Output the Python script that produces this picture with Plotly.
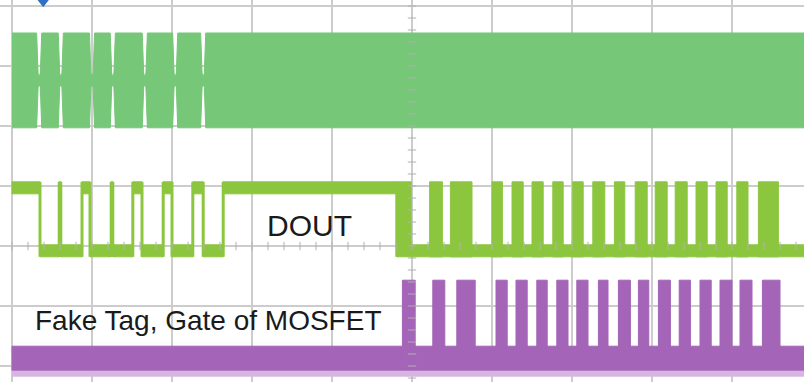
import plotly.graph_objects as go

# ---- data (x in time divisions, y in vertical divisions) ----
X_END = 9.9

# top trace (RF carrier) envelope
RF_CENTER = 2.76
RF_AMP = 0.79
RF_NECK = 0.06
RF_NOTCHES = [0.34, 0.61, 1.0, 1.26, 1.66, 2.04, 2.39]

# DOUT trace
DOUT_HIGH = 0.97
DOUT_LOW = -0.08
DOUT_HIGH_LEFT = [(0.0, 0.35), (0.59, 0.61), (0.875, 0.975), (1.24, 1.26),
                  (1.51, 1.625), (1.89, 2.0), (2.26, 2.39), (2.64, 4.81)]
DOUT_FALL = (4.81, 4.99)
DOUT_PULSES = [(5.22, 5.38), (5.48, 5.75), (6.0, 6.13), (6.25, 6.39), (6.5, 6.64),
               (6.76, 6.89), (7.01, 7.14), (7.26, 7.41), (7.53, 7.66), (7.79, 7.94),
               (8.04, 8.19), (8.29, 8.44), (8.55, 8.69), (8.8, 8.94), (9.06, 9.2),
               (9.33, 9.58)]

# Fake tag gate trace
GATE_LOW = -1.87
GATE_TOP = -0.57
GATE_PULSES = [(4.88, 5.04), (5.26, 5.41), (5.56, 5.79), (6.05, 6.19), (6.3, 6.44),
               (6.56, 6.69), (6.81, 6.95), (7.06, 7.2), (7.33, 7.45), (7.58, 7.73),
               (7.83, 7.96), (8.08, 8.23), (8.34, 8.48), (8.6, 8.74), (8.85, 9.0),
               (9.1, 9.25), (9.38, 9.6)]

TRIGGER_X = 0.39

LABELS = ["DOUT", "Fake Tag, Gate of MOSFET"]

# ---- styles ----
C_RF = "#76c777"
C_DOUT = "#8cc63f"
C_GATE = "#a464b7"
C_GATE_FUZZ = "#d6b6e0"
C_GRID = "#cccccc"
BAND = 0.1      # half thickness of DOUT level band (div)
GBAND = 0.2     # half thickness of gate low band (div)


def rects(intervals, y0, y1):
    xs, ys = [], []
    for a, b in intervals:
        xs += [a, b, b, a, a, None]
        ys += [y0, y0, y1, y1, y0, None]
    return xs, ys


fig = go.Figure()

# --- RF envelope polygon ---
ex, up, lo = [0.0], [RF_CENTER + RF_AMP], [RF_CENTER - RF_AMP]
for c in RF_NOTCHES:
    for dx, amp in [(-0.032, RF_AMP), (-0.014, 0.12), (0.0, RF_NECK),
                    (0.014, 0.12), (0.032, RF_AMP)]:
        ex.append(c + dx)
        up.append(RF_CENTER + amp)
        lo.append(RF_CENTER - amp)
ex.append(X_END)
up.append(RF_CENTER + RF_AMP)
lo.append(RF_CENTER - RF_AMP)
fig.add_trace(go.Scatter(x=ex + ex[::-1], y=up + lo[::-1], fill="toself",
                         fillcolor=C_RF, line=dict(color=C_RF, width=1),
                         mode="lines", hoverinfo="skip"))

# --- DOUT ---
highs = DOUT_HIGH_LEFT
lows = []
for (a0, b0), (a1, b1) in zip(highs[:-1], highs[1:]):
    lows.append((b0, a1))
hx, hy = rects(highs, DOUT_HIGH - BAND, DOUT_HIGH + BAND)
lx, ly = rects(lows + [(DOUT_FALL[1], X_END)], DOUT_LOW - BAND, DOUT_LOW + BAND)
sx, sy = rects([DOUT_FALL] + DOUT_PULSES, DOUT_LOW - BAND, DOUT_HIGH + BAND)
fig.add_trace(go.Scatter(x=hx + lx + sx, y=hy + ly + sy, fill="toself",
                         fillcolor=C_DOUT, line=dict(color=C_DOUT, width=1),
                         mode="lines", hoverinfo="skip"))
tx, ty = [], []
for a, b in highs[1:]:
    tx += [a, a, None, b, b, None]
    ty += [DOUT_LOW - BAND, DOUT_HIGH + BAND, None, DOUT_LOW - BAND, DOUT_HIGH + BAND, None]
a, b = highs[0]
tx += [b, b, None]
ty += [DOUT_LOW - BAND, DOUT_HIGH + BAND, None]
fig.add_trace(go.Scatter(x=tx, y=ty, mode="lines", line=dict(color=C_DOUT, width=3),
                         hoverinfo="skip"))

# --- Gate ---
fx, fy = rects([(0.0, X_END)], GATE_LOW - GBAND - 0.11, GATE_LOW - GBAND)
fig.add_trace(go.Scatter(x=fx, y=fy, fill="toself", fillcolor=C_GATE_FUZZ,
                         line=dict(color=C_GATE_FUZZ, width=0), mode="lines",
                         hoverinfo="skip"))
gx, gy = rects([(0.0, X_END)], GATE_LOW - GBAND, GATE_LOW + GBAND)
px, py = rects(GATE_PULSES, GATE_LOW, GATE_TOP)
fig.add_trace(go.Scatter(x=gx + px, y=gy + py, fill="toself",
                         fillcolor=C_GATE, line=dict(color=C_GATE, width=1),
                         mode="lines", hoverinfo="skip"))

# --- graticule minor ticks on centre lines ---
mt_x = [i * 0.2 for i in range(0, 50)]
fig.add_trace(go.Scatter(x=mt_x, y=[0] * len(mt_x), mode="markers",
                         marker=dict(symbol="line-ns", size=6,
                                     line=dict(color="#b0b0b0", width=1)),
                         hoverinfo="skip"))
mt_y = [-2.2 + i * 0.2 for i in range(0, 32)]
fig.add_trace(go.Scatter(x=[5] * len(mt_y), y=mt_y, mode="markers",
                         marker=dict(symbol="line-ew", size=6,
                                     line=dict(color="#b0b0b0", width=1)),
                         hoverinfo="skip"))

# trigger marker
fig.add_trace(go.Scatter(x=[TRIGGER_X], y=[4.07], mode="markers",
                         marker=dict(symbol="triangle-down", size=11, color="#2f6fc4"),
                         hoverinfo="skip"))

font_fam = "Liberation Sans, Arial, sans-serif"
fig.add_annotation(x=3.72, y=0.34, text=LABELS[0], showarrow=False,
                   xanchor="center", yanchor="middle",
                   font=dict(family=font_fam, size=30, color="#1a1a1a"))
fig.add_annotation(x=2.46, y=-1.24, text=LABELS[1], showarrow=False,
                   xanchor="center", yanchor="middle",
                   font=dict(family=font_fam, size=28, color="#1a1a1a"))

fig.update_layout(
    width=804, height=382,
    margin=dict(l=0, r=0, t=0, b=0),
    paper_bgcolor="white", plot_bgcolor="white",
    showlegend=False,
    xaxis=dict(range=[-0.15, X_END], tick0=0, dtick=1, showgrid=True,
               gridcolor=C_GRID, gridwidth=1.5, zeroline=False,
               showticklabels=False, ticks=""),
    yaxis=dict(range=[-2.2667, 4.1], tick0=0, dtick=1, showgrid=True,
               gridcolor=C_GRID, gridwidth=1.5, zeroline=False,
               showticklabels=False, ticks=""),
)

fig.write_html("out.html", config={"displayModeBar": False, "staticPlot": True},
               post_script="document.body.style.margin='0';document.body.style.overflow='hidden';")
